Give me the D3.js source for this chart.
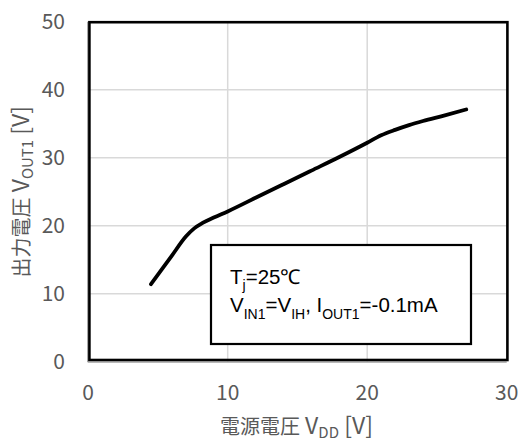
<!DOCTYPE html>
<html><head><meta charset="utf-8">
<script src="https://cdn.jsdelivr.net/npm/d3@7"></script>
<style>body{margin:0;background:#fff;} svg{display:block;}</style>
</head><body>
<svg id="c" width="523" height="441"></svg>
<script>
const vdd  = [4.5, 6.0, 7.0, 7.6, 8.2, 9.0, 10, 12, 14, 16, 18, 20, 21, 22, 23, 24, 25.5, 27.1];
const vout = [11.4, 15.6, 18.4, 19.6, 20.4, 21.2, 22.1, 24.1, 26.1, 28.1, 30.1, 32.2, 33.3, 34.1, 34.8, 35.4, 36.2, 37.1];
const xTicks = [0, 10, 20, 30];
const yTicks = [0, 10, 20, 30, 40, 50];

const svg = d3.select("#c");
const x = d3.scaleLinear().domain([0, 30]).range([88.2, 506.7]);
const y = d3.scaleLinear().domain([0, 50]).range([361.6, 21.8]);
const gray = "#595959";
const tickFont = "'Noto Sans CJK JP', 'Open Sans', sans-serif";

// gridlines
svg.append("g").selectAll("line").data(xTicks.slice(1, -1)).join("line")
  .attr("x1", d => x(d)).attr("x2", d => x(d)).attr("y1", y(50)).attr("y2", y(0))
  .attr("stroke", "#d9d9d9").attr("stroke-width", 1.5);
svg.append("g").selectAll("line").data(yTicks.slice(1, -1)).join("line")
  .attr("x1", x(0)).attr("x2", x(30)).attr("y1", d => y(d)).attr("y2", d => y(d))
  .attr("stroke", "#d9d9d9").attr("stroke-width", 1.5);

// axes (gray lines)
svg.append("line").attr("x1", x(0) - 0.5).attr("x2", x(0) - 0.5).attr("y1", y(50)).attr("y2", y(0) + 0.5)
  .attr("stroke", "#a0a0a0").attr("stroke-width", 1.2);
svg.append("line").attr("x1", x(0) - 0.5).attr("x2", x(30)).attr("y1", y(0) + 0.5).attr("y2", y(0) + 0.5)
  .attr("stroke", "#a0a0a0").attr("stroke-width", 1.2);

// black frame
svg.append("rect").attr("x", x(0) + 1.2).attr("y", y(50) + 0.4)
  .attr("width", x(30) - x(0) - 0.5).attr("height", y(0) - y(50) - 2)
  .attr("fill", "none").attr("stroke", "#000").attr("stroke-width", 2.6);

// tick labels
svg.append("g").selectAll("text").data(yTicks).join("text")
  .attr("x", 65).attr("y", d => y(d)).attr("dy", "0.36em")
  .attr("text-anchor", "end").attr("fill", gray)
  .style("font-family", tickFont).style("font-size", "21px").text(d => d);
svg.append("g").selectAll("text").data(xTicks).join("text")
  .attr("x", d => x(d)).attr("y", 400)
  .attr("text-anchor", "middle").attr("fill", gray)
  .style("font-family", tickFont).style("font-size", "21px").text(d => d);

// axis titles
function title(sel, cjk, sub) {
  sel.append("tspan").text(cjk).style("font-size", "20px");
  sel.append("tspan").text(" V").style("font-size", "23px");
  sel.append("tspan").text(sub).style("font-size", "15px").attr("dy", 4);
  sel.append("tspan").text(" [V]").style("font-size", "23px").attr("dy", -4);
}
const xt = svg.append("text").attr("x", (x(0) + x(30)) / 2 - 1).attr("y", 434)
  .attr("text-anchor", "middle").attr("fill", gray).style("font-family", tickFont);
title(xt, "電源電圧", "DD");

const yt = svg.append("text").attr("transform", `translate(29,${(y(0) + y(50)) / 2}) rotate(-90)`)
  .attr("text-anchor", "middle").attr("fill", gray).style("font-family", tickFont);
title(yt, "出力電圧", "OUT1");

// curve
const line = d3.line().x((d, i) => x(vdd[i])).y(d => y(d)).curve(d3.curveMonotoneX);
svg.append("path").datum(vout).attr("d", line)
  .attr("fill", "none").attr("stroke", "#000").attr("stroke-width", 3.8)
  .attr("stroke-linecap", "round").attr("stroke-linejoin", "round");

// annotation box
svg.append("rect").attr("x", 211).attr("y", 245).attr("width", 260).attr("height", 99)
  .attr("fill", "#fff").attr("stroke", "#000").attr("stroke-width", 2.2);
const bf = "'Liberation Sans', Arial, sans-serif";
const t1 = svg.append("text").attr("x", 230).attr("y", 284)
  .style("font-family", bf).style("font-size", "20.5px").attr("fill", "#000");
t1.append("tspan").text("T");
t1.append("tspan").text("j").style("font-size", "14px").attr("dy", 6);
t1.append("tspan").text("=25℃").attr("dy", -6);
const t2 = svg.append("text").attr("x", 230).attr("y", 312)
  .style("font-family", bf).style("font-size", "20.5px").attr("fill", "#000");
t2.append("tspan").text("V");
t2.append("tspan").text("IN1").style("font-size", "14px").attr("dy", 7);
t2.append("tspan").text("=V").attr("dy", -7);
t2.append("tspan").text("IH").style("font-size", "14px").attr("dy", 7);
t2.append("tspan").text(", I").attr("dy", -7);
t2.append("tspan").text("OUT1").style("font-size", "14px").attr("dy", 7);
t2.append("tspan").text("=-0.1mA").attr("dy", -7);
</script>
</body></html>
